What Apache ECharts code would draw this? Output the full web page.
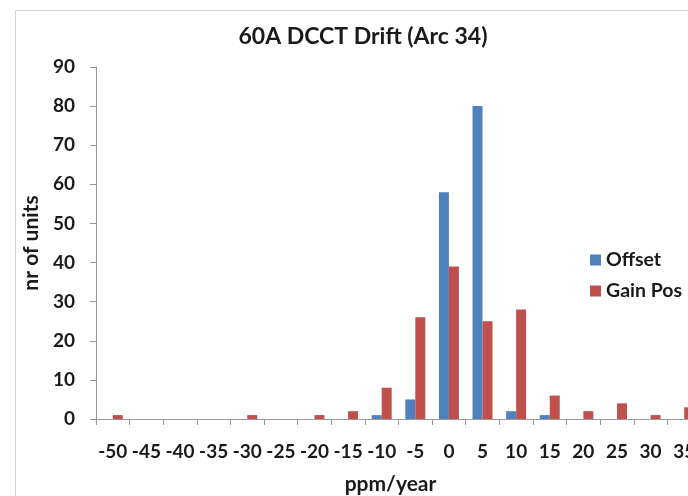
<!DOCTYPE html>
<html>
<head>
<meta charset="utf-8">
<script src="https://cdn.jsdelivr.net/npm/echarts@6/dist/echarts.min.js"></script>
<style>
  html, body { margin: 0; padding: 0; background: #ffffff; overflow: hidden; }
  #chart { width: 688px; height: 496px; }
</style>
</head>
<body>
<div id="chart"></div>
<script>
// Drift histogram bins (ppm/year) and unit counts per bin
const categories = ['-50', '-45', '-40', '-35', '-30', '-25', '-20', '-15', '-10', '-5',
                    '0', '5', '10', '15', '20', '25', '30', '35'];
const offsetCounts  = [0, 0, 0, 0, 0, 0, 0, 0, 1, 5, 58, 80, 2, 1, 0, 0, 0, 0];
const gainPosCounts = [1, 0, 0, 0, 1, 0, 1, 2, 8, 26, 39, 25, 28, 6, 2, 4, 1, 3];
const seriesNames = ['Offset', 'Gain Pos'];

const FONT = 'Lato, "Open Sans", sans-serif';
const INK = '#1a1a1a';
const AXIS = '#999999';
const chart = echarts.init(document.getElementById('chart'), null, { renderer: 'canvas' });

chart.setOption({
  animation: false,
  backgroundColor: '#ffffff',
  title: {
    text: '60A DCCT Drift (Arc 34)',
    left: 358,
    top: 20,
    textAlign: 'center',
    textStyle: { fontFamily: FONT, fontSize: 23, fontWeight: 'bold', color: INK }
  },
  // chart-area frame; it runs on past the right and bottom edges of the page
  graphic: [{
    type: 'rect',
    shape: { x: 15.5, y: 10.5, width: 900, height: 700 },
    style: { fill: 'none', stroke: '#d4d4d4', lineWidth: 1 },
    silent: true,
    z: -1
  }],
  legend: {
    orient: 'vertical',
    left: 590,
    top: 250,
    padding: 0,
    itemWidth: 11,
    itemHeight: 11,
    itemGap: 11,
    icon: 'rect',
    data: seriesNames,
    textStyle: { fontFamily: FONT, fontSize: 19.5, lineHeight: 20, fontWeight: 'bold', color: INK }
  },
  // the plot area is wider than the page, so the last bin is cut at the right edge
  grid: { left: 96, top: 67, width: 605, height: 352, containLabel: false, outerBoundsMode: 'none' },
  xAxis: {
    type: 'category',
    data: categories,
    name: 'ppm/year',
    nameLocation: 'middle',
    nameGap: 55,
    nameTextStyle: { fontFamily: FONT, fontSize: 21, fontWeight: 'bold', color: INK, padding: [0, 16, 0, 0] },
    axisLine: { lineStyle: { color: AXIS, width: 1 } },
    axisTick: { show: true, length: 6, lineStyle: { color: AXIS } },
    axisLabel: { fontFamily: FONT, fontSize: 19, fontWeight: 'bold', color: INK, margin: 23, interval: 0, hideOverlap: false },
    splitLine: { show: false }
  },
  yAxis: {
    type: 'value',
    min: 0,
    max: 90,
    interval: 10,
    name: 'nr of units',
    nameLocation: 'middle',
    nameGap: 47,
    nameRotate: 90,
    nameTextStyle: { fontFamily: FONT, fontSize: 21, fontWeight: 'bold', color: INK },
    axisLine: { show: true, lineStyle: { color: AXIS, width: 1 } },
    axisTick: { show: true, length: 6, lineStyle: { color: AXIS } },
    axisLabel: { fontFamily: FONT, fontSize: 19, fontWeight: 'bold', color: INK, margin: 21 },
    splitLine: { show: false }
  },
  series: [
    {
      name: seriesNames[0],
      type: 'bar',
      data: offsetCounts,
      barWidth: 10,
      barGap: '0%',
      itemStyle: { color: '#4F81BD' }
    },
    {
      name: seriesNames[1],
      type: 'bar',
      data: gainPosCounts,
      barWidth: 10,
      barGap: '0%',
      itemStyle: { color: '#C0504D' }
    }
  ]
});
</script>
</body>
</html>
